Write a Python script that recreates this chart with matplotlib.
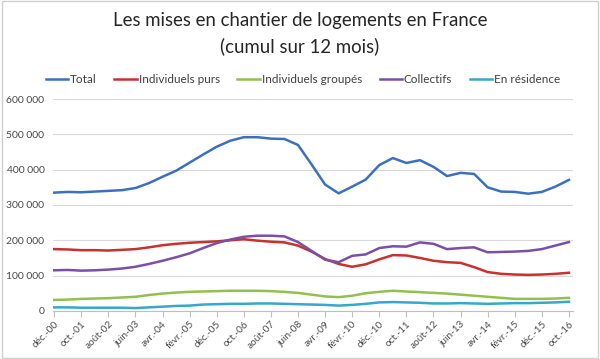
import matplotlib
matplotlib.use("Agg")
import matplotlib.pyplot as plt
from matplotlib.patches import Rectangle

# month index (0 = déc-00), sampled every 5 months
months = list(range(0, 191, 5))

total = [335000, 337000, 336000, 338000, 340000, 342000, 348000, 362000, 380000, 397000,
         420000, 443000, 465000, 482000, 492000, 492000, 488000, 487000, 470000, 415000,
         358000, 333000, 352000, 372000, 413000, 433000, 419000, 427000, 408000, 382000,
         391000, 388000, 350000, 338000, 337000, 332000, 337000, 352000, 371000]
indiv_purs = [175000, 174000, 172000, 172000, 171000, 173000, 175000, 180000, 186000, 190000,
              193000, 195000, 197000, 200000, 203000, 199000, 196000, 194000, 185000, 168000,
              147000, 133000, 125000, 132000, 146000, 158000, 157000, 150000, 142000, 138000,
              136000, 124000, 110000, 105000, 103000, 102000, 103000, 105000, 108000]
indiv_groupes = [31000, 32000, 34000, 35000, 36000, 38000, 40000, 45000, 49000, 52000,
                 54000, 55000, 56000, 57000, 57000, 57000, 56000, 54000, 51000, 46000,
                 41000, 39000, 43000, 50000, 54000, 57000, 55000, 53000, 51000, 49000,
                 46000, 43000, 40000, 37000, 34000, 34000, 34000, 35000, 37000]
collectifs = [115000, 116000, 114000, 115000, 117000, 120000, 125000, 133000, 142000, 152000,
              163000, 178000, 192000, 202000, 210000, 213000, 213000, 211000, 195000, 170000,
              145000, 138000, 156000, 160000, 178000, 183000, 182000, 194000, 190000, 175000,
              178000, 180000, 166000, 167000, 168000, 170000, 175000, 185000, 195000]
residence = [10000, 10000, 9000, 9000, 9000, 9000, 8000, 10000, 12000, 14000,
             15000, 18000, 19000, 20000, 20000, 21000, 21000, 20000, 19000, 18000,
             17000, 15000, 17000, 20000, 24000, 25000, 24000, 23000, 21000, 21000,
             22000, 21000, 20000, 21000, 22000, 22000, 23000, 24000, 26000]

series_names = ["Total", "Individuels purs", "Individuels groupés", "Collectifs", "En résidence"]
series_colors = ["#3C70BE", "#C8312F", "#92C050", "#7A4FA8", "#34A9CC"]

tick_months = list(range(0, 191, 10))
tick_labels = ["déc.-00", "oct.-01", "août-02", "juin-03", "avr.-04", "févr.-05", "déc.-05",
               "oct.-06", "août-07", "juin-08", "avr.-09", "févr.-10", "déc.-10", "oct.-11",
               "août-12", "juin-13", "avr.-14", "févr.-15", "déc.-15", "oct.-16"]
y_ticks = [0, 100000, 200000, 300000, 400000, 500000, 600000]

plt.rcParams['font.family'] = ['Lato', 'DejaVu Sans']

fig = plt.figure(figsize=(6.0, 3.59), dpi=100)
ax = fig.add_axes([0.088, 0.134, 0.867, 0.590])

for vals, name, col in zip([total, indiv_purs, indiv_groupes, collectifs, residence],
                           series_names, series_colors):
    ax.plot(months, vals, color=col, lw=1.8, label=name, solid_joinstyle='round')

ax.set_xlim(-0.5, 191.5)
ax.set_ylim(0, 600000)
ax.set_yticks(y_ticks)
ax.set_yticklabels(["0" if v == 0 else f"{v//1000} 000" for v in y_ticks],
                   fontsize=7.5, color="#4a4a4a")
ax.set_xticks(tick_months)
ax.set_xticklabels(tick_labels, rotation=45, ha="right", rotation_mode="anchor",
                   fontsize=7.2, color="#4a4a4a")
ax.tick_params(axis='y', length=0, pad=6)
ax.tick_params(axis='x', length=4, color="#bfbfbf", direction='out', pad=2)
ax.grid(axis='y', color="#d9d9d9", lw=0.8)
ax.set_axisbelow(True)
for s in ["top", "right", "left"]:
    ax.spines[s].set_visible(False)
ax.spines["bottom"].set_color("#bfbfbf")

fig.text(0.5, 0.942, "Les mises en chantier de logements en France", ha="center",
         va="center", fontsize=13.4, color="#262626")
fig.text(0.5, 0.87, "(cumul sur 12 mois)", ha="center", va="center",
         fontsize=13.4, color="#262626")

fig.legend(loc="center", bbox_to_anchor=(0.505, 0.778), ncol=5, frameon=False,
           fontsize=8.5, handlelength=1.9, handletextpad=0.15, columnspacing=1.5,
           labelcolor="#404040")

fig.patches.append(Rectangle((0.003, 0.004), 0.994, 0.992, transform=fig.transFigure,
                             fill=False, edgecolor="#d0d0d0", lw=1))

fig.savefig("out.png", dpi=100, facecolor="white")
